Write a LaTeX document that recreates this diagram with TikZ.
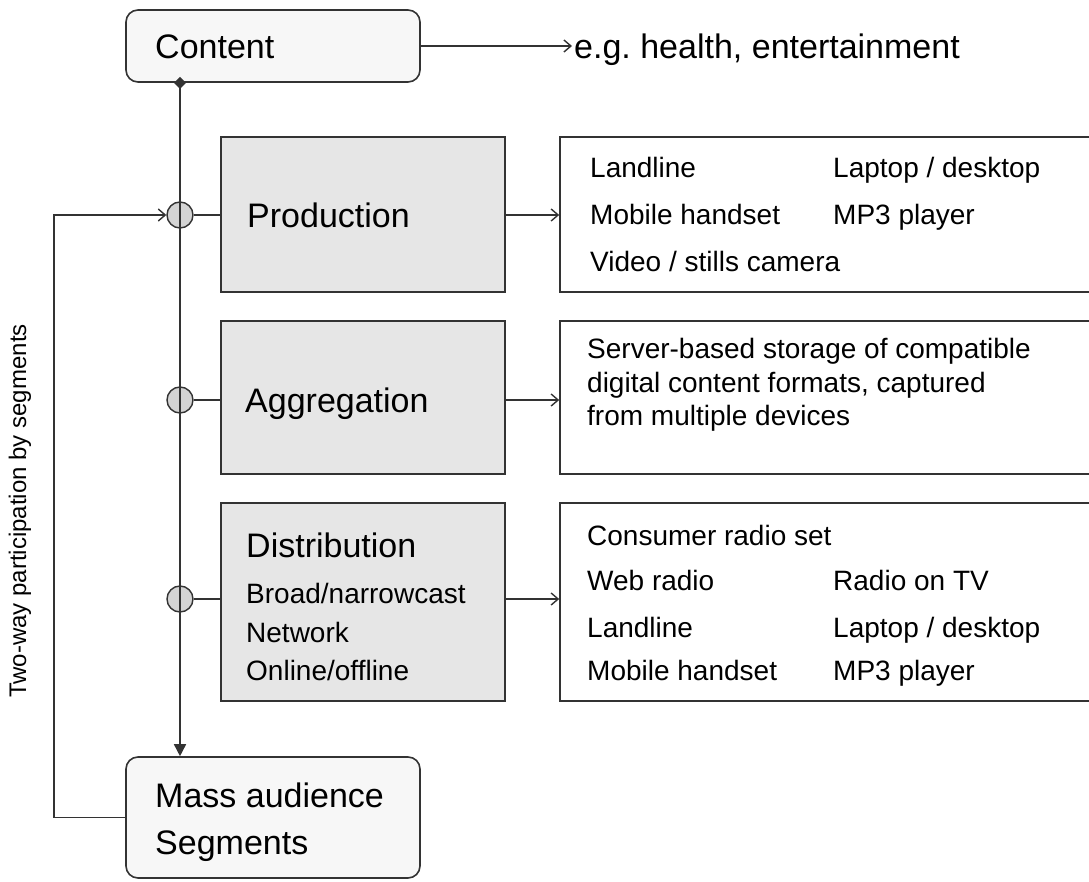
\documentclass[tikz,border=0pt]{standalone}
\usepackage{fontspec}
\setmainfont{Liberation Sans}
\usetikzlibrary{arrows.meta}
\frenchspacing
\definecolor{ln}{HTML}{333333}
\definecolor{boxgray}{HTML}{E6E6E6}
\definecolor{roundfill}{HTML}{F7F7F7}
\definecolor{circfill}{HTML}{D4D4D4}
\tikzset{
  rbox/.style={draw=ln, fill=roundfill, rounded corners=12pt, line width=1.6pt, inner sep=0pt},
  gbox/.style={draw=ln, fill=boxgray, line width=1.6pt, inner sep=0pt},
  wbox/.style={draw=ln, fill=white, line width=1.6pt, inner sep=0pt},
  conn/.style={draw=ln, line width=1.6pt},
  openarrow/.style={-{Straight Barb[length=7pt,width=12pt,line width=1.4pt]}},
  jn/.style={circle, draw=ln, fill=circfill, minimum size=26pt, inner sep=0pt, line width=1.4pt},
  bigt/.style={font=\fontsize{34}{40}\selectfont, anchor=west, inner sep=0pt, text height=24.3pt, text depth=0pt},
  smallt/.style={font=\fontsize{28}{33}\selectfont, anchor=west, inner sep=0pt, text height=20pt, text depth=0pt},
  sidet/.style={font=\fontsize{24}{28}\selectfont, rotate=90, inner sep=0pt},
}
\begin{document}
\begin{tikzpicture}[x=1pt,y=-1pt]
\useasboundingbox (0,0) rectangle (1089,882);
\clip (0,0) rectangle (1089,882);
% boxes
\node[rbox, minimum width=294pt, minimum height=72pt] (content) at (273,46) {};
\node[rbox, minimum width=294pt, minimum height=121pt] (mass) at (273,817.5) {};
\node[gbox, minimum width=284pt, minimum height=155pt] (prod) at (363,214.5) {};
\node[gbox, minimum width=284pt, minimum height=153pt] (agg) at (363,397.5) {};
\node[gbox, minimum width=284pt, minimum height=198pt] (dist) at (363,602) {};
\node[wbox, minimum width=540pt, minimum height=155pt] (prodR) at (830,214.5) {};
\node[wbox, minimum width=540pt, minimum height=153pt] (aggR) at (830,397.5) {};
\node[wbox, minimum width=540pt, minimum height=198pt] (distR) at (830,602) {};
% junctions
\node[jn] (c1) at (180,215) {};
\node[jn] (c2) at (180,400) {};
\node[jn] (c3) at (180,599) {};
\coordinate (fbx) at (54,0);
% texts
\node[bigt] (tcontent) at (155,46) {Content};
\node[bigt] (teg) at (574,46) {e.g. health, entertainment};
\node[bigt] (tprod) at (247,215) {Production};
\node[bigt] (tagg) at (245,400) {Aggregation};
\node[bigt] (tdist) at (246,545) {Distribution};
\node[smallt] (td1) at (246,593) {Broad/narrowcast};
\node[smallt] (td2) at (246,632) {Network};
\node[smallt] (td3) at (246,670) {Online/offline};
\node[smallt] (p1) at (590,168) {Landline};
\node[smallt] (p2) at (833,168) {Laptop / desktop};
\node[smallt] (p3) at (590,215) {Mobile handset};
\node[smallt] (p4) at (833,215) {MP3 player};
\node[smallt] (p5) at (590,262) {Video / stills camera};
\node[smallt] (a1) at (587,349) {Server-based storage of compatible};
\node[smallt] (a2) at (587,382) {digital content formats, captured};
\node[smallt] (a3) at (587,415) {from multiple devices};
\node[smallt] (d1) at (587,535) {Consumer radio set};
\node[smallt] (d2) at (587,580) {Web radio};
\node[smallt] (d3) at (833,580) {Radio on TV};
\node[smallt] (d4) at (587,627) {Landline};
\node[smallt] (d5) at (833,627) {Laptop / desktop};
\node[smallt] (d6) at (587,670) {Mobile handset};
\node[smallt] (d7) at (833,670) {MP3 player};
\node[bigt] (tmass1) at (155,795) {Mass audience};
\node[bigt] (tmass2) at (155,842) {Segments};
\node[sidet] (tside) at (20,511) {Two-way participation by segments};
% connectors
\draw[conn] (c1.east) -- (c1.east -| prod.west);
\draw[conn] (c2.east) -- (c2.east -| agg.west);
\draw[conn] (c3.east) -- (c3.east -| dist.west);
\draw[conn, openarrow] (c1 -| prod.east) -- (c1 -| prodR.west);
\draw[conn, openarrow] (c2 -| agg.east) -- (c2 -| aggR.west);
\draw[conn, openarrow] (c3 -| dist.east) -- (c3 -| distR.west);
\draw[conn, openarrow] (content.east) -- ([xshift=-2pt]teg.west);
\draw[conn, {Diamond[length=12pt,width=12pt]}-{Triangle[length=12pt,width=12pt]}]
  ([yshift=6pt]content.south -| c1) -- (mass.north -| c1);
\draw[conn, openarrow] (mass.west) -- (mass.west -| fbx) |- (c1.west);
\end{tikzpicture}
\end{document}
